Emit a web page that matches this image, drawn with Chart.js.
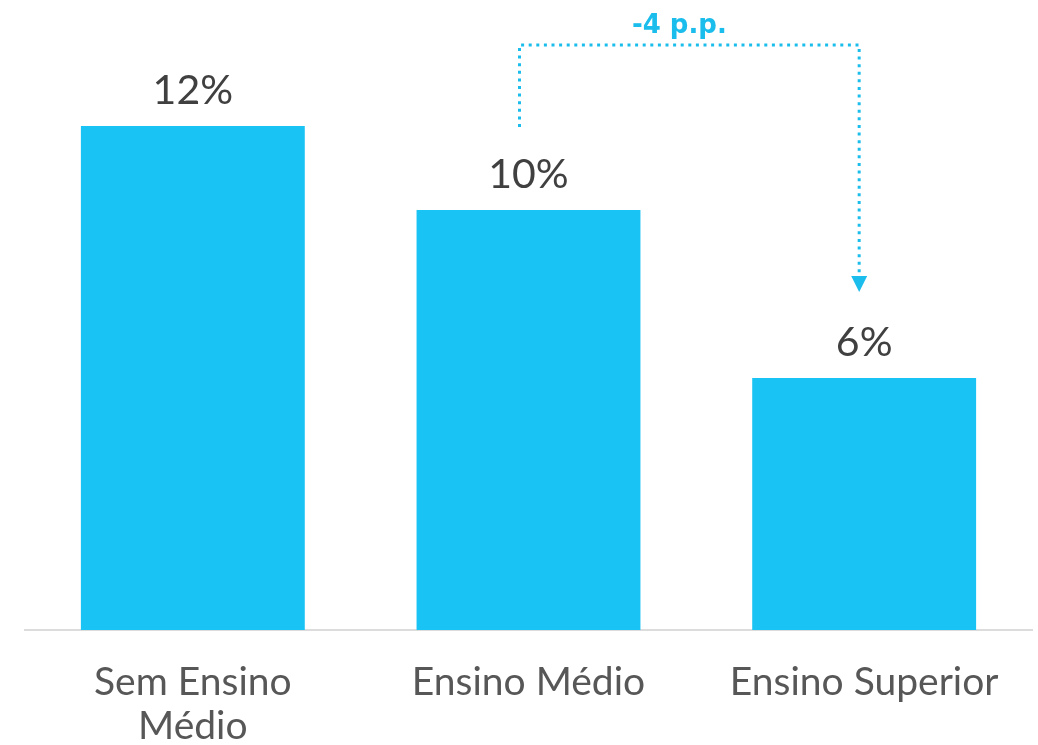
<!DOCTYPE html>
<html lang="pt-BR">
<head>
<meta charset="utf-8">
<script src="https://cdn.jsdelivr.net/npm/chart.js@4.4.1/dist/chart.umd.min.js"></script>
<style>
  html, body { margin: 0; padding: 0; background: #ffffff; }
  #wrap { width: 1038px; height: 745px; position: relative; }
</style>
</head>
<body>
<div id="wrap"><canvas id="chart"></canvas></div>
<script>
// Schooling level categories (first label wraps onto two lines)
const categories = [["Sem Ensino", "Médio"], "Ensino Médio", "Ensino Superior"];
// Share for each level, in percent
const shares = [12, 10, 6];
// Bracket compares these two bars (indices into shares)
const gapFrom = 1;
const gapTo = 2;

const BAR_COLOR = '#19C3F3';
const ACCENT = '#1BBDEC';
const VALUE_COLOR = '#404040';
const LABEL_COLOR = '#575757';

// Percentage labels above each bar
const valueLabels = {
  id: 'valueLabels',
  afterDatasetsDraw(chart) {
    const ctx = chart.ctx;
    const meta = chart.getDatasetMeta(0);
    ctx.save();
    ctx.font = '41px Lato';
    ctx.fillStyle = VALUE_COLOR;
    ctx.textAlign = 'center';
    ctx.textBaseline = 'alphabetic';
    meta.data.forEach((bar, i) => {
      ctx.fillText(shares[i] + '%', bar.x, bar.y - 22);
    });
    ctx.restore();
  }
};

// Dotted bracket with arrow showing the drop between two levels
const gapBracket = {
  id: 'gapBracket',
  afterDraw(chart) {
    const { ctx, scales: { x, y } } = chart;
    const x0 = x.getPixelForValue(gapFrom) - 9;
    const x1 = x.getPixelForValue(gapTo) - 5;
    const top = y.getPixelForValue(Math.max(...shares)) - 81;
    const start = y.getPixelForValue(shares[gapFrom]) - 83;
    const tip = y.getPixelForValue(shares[gapTo]) - 86;
    const head = 16;

    ctx.save();
    ctx.strokeStyle = ACCENT;
    ctx.lineWidth = 3;
    ctx.setLineDash([3, 4.6]);
    ctx.beginPath();
    ctx.moveTo(x0, start);
    ctx.lineTo(x0, top);
    ctx.lineTo(x1, top);
    ctx.lineTo(x1, tip - head);
    ctx.stroke();

    ctx.setLineDash([]);
    ctx.fillStyle = ACCENT;
    ctx.beginPath();
    ctx.moveTo(x1 - 8, tip - head);
    ctx.lineTo(x1 + 8, tip - head);
    ctx.lineTo(x1, tip);
    ctx.closePath();
    ctx.fill();

    const diff = shares[gapTo] - shares[gapFrom];
    ctx.font = 'bold 26px "DejaVu Sans"';
    ctx.textAlign = 'center';
    ctx.textBaseline = 'alphabetic';
    ctx.fillText(diff + ' p.p.', (x0 + x1) / 2 - 10, top - 12);
    ctx.restore();
  }
};

new Chart(document.getElementById('chart'), {
  type: 'bar',
  data: {
    labels: categories,
    datasets: [{
      data: shares,
      backgroundColor: BAR_COLOR,
      borderWidth: 0,
      barPercentage: 0.667,
      categoryPercentage: 1.0
    }]
  },
  options: {
    responsive: true,
    maintainAspectRatio: false,
    animation: false,
    layout: { padding: { left: 25, right: 6, top: 0, bottom: 0 } },
    plugins: {
      legend: { display: false },
      tooltip: { enabled: false }
    },
    scales: {
      x: {
        grid: { display: false, drawTicks: false },
        border: { display: true, color: '#DCDCDC', width: 2 },
        ticks: {
          color: LABEL_COLOR,
          font: { family: 'Lato', size: 39, lineHeight: 1.12 },
          padding: 31,
          maxRotation: 0,
          autoSkip: false
        },
        afterFit(scale) { scale.height = 115; }
      },
      y: {
        display: false,
        min: 0,
        max: 15
      }
    }
  },
  plugins: [valueLabels, gapBracket]
});
</script>
</body>
</html>
